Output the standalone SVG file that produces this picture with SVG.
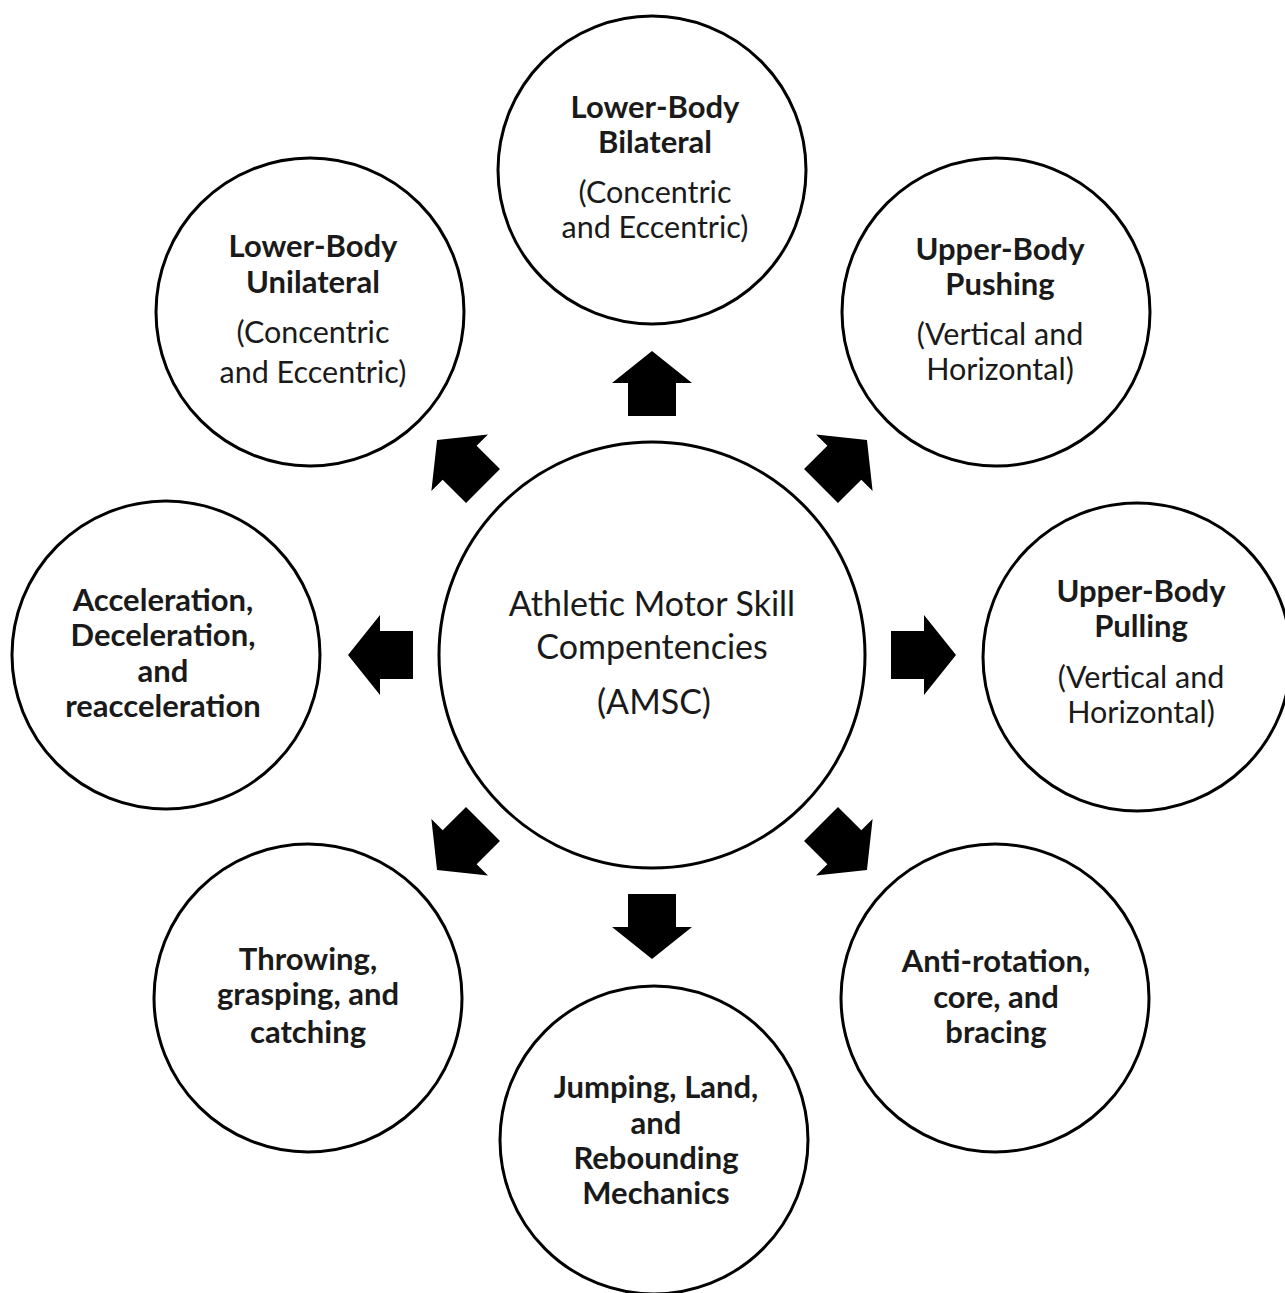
<svg xmlns="http://www.w3.org/2000/svg" width="1285" height="1293" viewBox="0 0 1285 1293">
<style>
.c{fill:#fff;stroke:#000;stroke-width:3}
.b{font-family:Lato,"Open Sans","Liberation Sans",sans-serif;font-weight:bold;font-size:31px;fill:#1a1a1a;text-anchor:middle}
.r{font-family:Lato,"Open Sans","Liberation Sans",sans-serif;font-size:30.5px;fill:#1a1a1a;text-anchor:middle}
.m{font-family:Lato,"Open Sans","Liberation Sans",sans-serif;font-size:34px;fill:#1a1a1a;text-anchor:middle}
.a{fill:#000}
</style>
<defs>
<path id="arr" d="M239,-24 L272,-24 L272,-40 L304,0 L272,40 L272,24 L239,24 Z"/>
</defs>
<rect width="1285" height="1293" fill="#fff"/>
<g id="connectors" transform="translate(652,655)">
<use href="#arr" class="a" transform="rotate(0)"/>
<use href="#arr" class="a" transform="rotate(45)"/>
<use href="#arr" class="a" transform="rotate(90)"/>
<use href="#arr" class="a" transform="rotate(135)"/>
<use href="#arr" class="a" transform="rotate(180)"/>
<use href="#arr" class="a" transform="rotate(225)"/>
<use href="#arr" class="a" transform="rotate(270)"/>
<use href="#arr" class="a" transform="rotate(315)"/>
</g>
<g id="center">
<circle class="c" cx="652" cy="655" r="213"/>
<text class="m" x="652" y="616">Athletic Motor Skill</text>
<text class="m" x="652" y="659">Compentencies</text>
<text class="m" x="654" y="714">(AMSC)</text>
</g>
<g id="lower-body-bilateral">
<circle class="c" cx="652" cy="170" r="154"/>
<text class="b" x="655" y="118">Lower-Body</text>
<text class="b" x="655" y="153">Bilateral</text>
<text class="r" x="655" y="203">(Concentric</text>
<text class="r" x="655" y="238">and Eccentric)</text>
</g>
<g id="upper-body-pushing">
<circle class="c" cx="996" cy="312" r="154"/>
<text class="b" x="1000" y="260">Upper-Body</text>
<text class="b" x="1000" y="295">Pushing</text>
<text class="r" x="1000" y="345">(Vertical and</text>
<text class="r" x="1000" y="380">Horizontal)</text>
</g>
<g id="upper-body-pulling">
<circle class="c" cx="1137" cy="657" r="154"/>
<text class="b" x="1141" y="602">Upper-Body</text>
<text class="b" x="1141" y="637">Pulling</text>
<text class="r" x="1141" y="688">(Vertical and</text>
<text class="r" x="1141" y="723">Horizontal)</text>
</g>
<g id="anti-rotation">
<circle class="c" cx="995" cy="998" r="154"/>
<text class="b" x="996" y="972">Anti-rotation,</text>
<text class="b" x="996" y="1008">core, and</text>
<text class="b" x="996" y="1043">bracing</text>
</g>
<g id="jumping">
<circle class="c" cx="654" cy="1140" r="154"/>
<text class="b" x="656" y="1098">Jumping, Land,</text>
<text class="b" x="656" y="1134">and</text>
<text class="b" x="656" y="1169">Rebounding</text>
<text class="b" x="656" y="1204">Mechanics</text>
</g>
<g id="throwing">
<circle class="c" cx="308" cy="998" r="154"/>
<text class="b" x="308" y="970">Throwing,</text>
<text class="b" x="308" y="1005">grasping, and</text>
<text class="b" x="308" y="1043">catching</text>
</g>
<g id="acceleration">
<circle class="c" cx="166" cy="655" r="154"/>
<text class="b" x="163" y="611">Acceleration,</text>
<text class="b" x="163" y="646">Deceleration,</text>
<text class="b" x="163" y="682">and</text>
<text class="b" x="163" y="717">reacceleration</text>
</g>
<g id="lower-body-unilateral">
<circle class="c" cx="310" cy="312" r="154"/>
<text class="b" x="313" y="257">Lower-Body</text>
<text class="b" x="313" y="293">Unilateral</text>
<text class="r" x="313" y="343">(Concentric</text>
<text class="r" x="313" y="383">and Eccentric)</text>
</g>
</svg>
